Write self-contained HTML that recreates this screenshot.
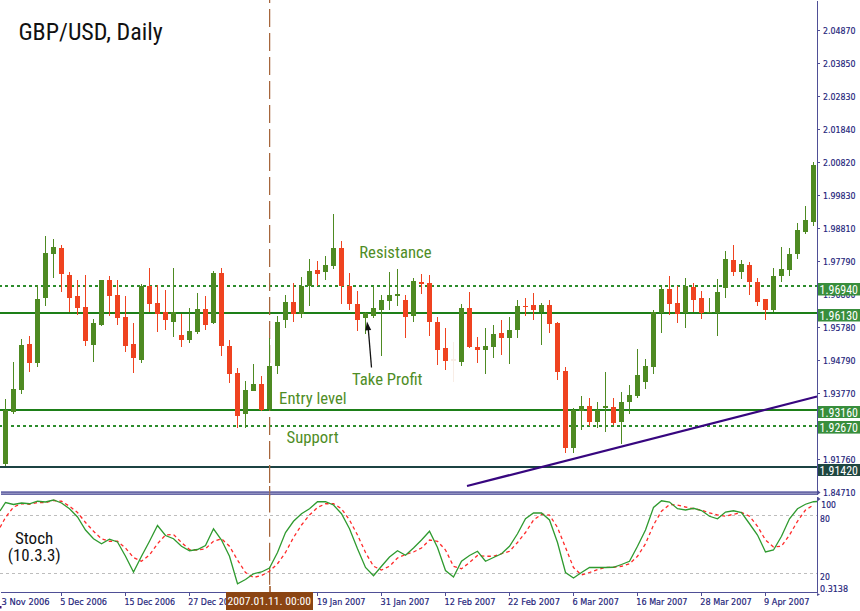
<!DOCTYPE html>
<html><head><meta charset="utf-8"><title>GBP/USD, Daily</title>
<style>
html,body{margin:0;padding:0;background:#fff;}
body{width:860px;height:611px;overflow:hidden;}
svg{display:block;}
</style></head>
<body>
<svg width="860" height="611" viewBox="0 0 860 611">
<rect width="860" height="611" fill="#fff"/>
<g shape-rendering="crispEdges">
<rect x="0" y="312" width="817" height="2" fill="#1d7f18"/>
<rect x="0" y="409" width="817" height="2" fill="#1d7f18"/>
<line x1="-1" y1="286" x2="817" y2="286" stroke="#2c8c2c" stroke-width="2" stroke-dasharray="3 3"/>
<line x1="-1" y1="426" x2="817" y2="426" stroke="#2c8c2c" stroke-width="2" stroke-dasharray="3 3"/>
<rect x="0" y="466" width="817" height="2" fill="#1c4343"/>
</g>
<g fill="#a6663c"><rect x="269" y="0" width="1.25" height="3"/><rect x="269" y="9" width="1.25" height="18"/><rect x="269" y="33" width="1.25" height="18"/><rect x="269" y="57" width="1.25" height="18"/><rect x="269" y="81" width="1.25" height="18"/><rect x="269" y="105" width="1.25" height="18"/><rect x="269" y="129" width="1.25" height="18"/><rect x="269" y="153" width="1.25" height="18"/><rect x="269" y="177" width="1.25" height="18"/><rect x="269" y="201" width="1.25" height="18"/><rect x="269" y="225" width="1.25" height="18"/><rect x="269" y="249" width="1.25" height="18"/><rect x="269" y="273" width="1.25" height="18"/><rect x="269" y="297" width="1.25" height="18"/><rect x="269" y="321" width="1.25" height="18"/><rect x="269" y="345" width="1.25" height="18"/><rect x="269" y="369" width="1.25" height="18"/><rect x="269" y="393" width="1.25" height="18"/><rect x="269" y="417" width="1.25" height="18"/><rect x="269" y="441" width="1.25" height="18"/><rect x="269" y="465" width="1.25" height="18"/><rect x="269" y="486" width="1.25" height="26.5"/><rect x="269" y="518.8" width="1.25" height="18.0"/><rect x="269" y="542.8" width="1.25" height="18.0"/><rect x="269" y="566.8" width="1.25" height="18.0"/><rect x="269" y="590.8" width="1.25" height="1.2000000000000455"/></g>
<g shape-rendering="crispEdges"><rect x="5" y="399" width="1" height="67" fill="#4e8a22"/><rect x="3" y="410" width="5" height="54" fill="#4e8a22"/><rect x="13" y="362" width="1" height="52" fill="#4e8a22"/><rect x="11" y="389" width="5" height="23" fill="#4e8a22"/><rect x="21" y="339" width="1" height="55" fill="#4e8a22"/><rect x="19" y="345" width="5" height="45" fill="#4e8a22"/><rect x="29" y="336" width="1" height="36" fill="#ef4320"/><rect x="27" y="344" width="5" height="19" fill="#ef4320"/><rect x="37" y="285" width="1" height="82" fill="#4e8a22"/><rect x="35" y="299" width="5" height="64" fill="#4e8a22"/><rect x="45" y="236" width="1" height="70" fill="#4e8a22"/><rect x="43" y="253" width="5" height="45" fill="#4e8a22"/><rect x="53" y="239" width="1" height="39" fill="#4e8a22"/><rect x="51" y="247" width="5" height="7" fill="#4e8a22"/><rect x="61" y="245" width="1" height="47" fill="#ef4320"/><rect x="59" y="248" width="5" height="26" fill="#ef4320"/><rect x="69" y="272" width="1" height="40" fill="#ef4320"/><rect x="67" y="275" width="5" height="23" fill="#ef4320"/><rect x="77" y="280" width="1" height="35" fill="#ef4320"/><rect x="75" y="296" width="5" height="12" fill="#ef4320"/><rect x="85" y="275" width="1" height="71" fill="#ef4320"/><rect x="83" y="307" width="5" height="34" fill="#ef4320"/><rect x="93" y="319" width="1" height="43" fill="#4e8a22"/><rect x="91" y="323" width="5" height="22" fill="#4e8a22"/><rect x="101" y="280" width="1" height="46" fill="#4e8a22"/><rect x="99" y="280" width="5" height="45" fill="#4e8a22"/><rect x="109" y="276" width="1" height="40" fill="#ef4320"/><rect x="107" y="280" width="5" height="16" fill="#ef4320"/><rect x="117" y="280" width="1" height="45" fill="#ef4320"/><rect x="115" y="295" width="5" height="23" fill="#ef4320"/><rect x="125" y="296" width="1" height="56" fill="#ef4320"/><rect x="123" y="317" width="5" height="29" fill="#ef4320"/><rect x="133" y="323" width="1" height="50" fill="#ef4320"/><rect x="131" y="344" width="5" height="14" fill="#ef4320"/><rect x="141" y="284" width="1" height="79" fill="#4e8a22"/><rect x="139" y="286" width="5" height="74" fill="#4e8a22"/><rect x="149" y="268" width="1" height="44" fill="#ef4320"/><rect x="147" y="286" width="5" height="18" fill="#ef4320"/><rect x="157" y="285" width="1" height="47" fill="#ef4320"/><rect x="155" y="303" width="5" height="11" fill="#ef4320"/><rect x="165" y="290" width="1" height="40" fill="#ef4320"/><rect x="163" y="312" width="5" height="8" fill="#ef4320"/><rect x="173" y="268" width="1" height="69" fill="#4e8a22"/><rect x="171" y="312" width="5" height="10" fill="#4e8a22"/><rect x="181" y="314" width="1" height="33" fill="#ef4320"/><rect x="179" y="335" width="5" height="5" fill="#ef4320"/><rect x="189" y="308" width="1" height="35" fill="#4e8a22"/><rect x="187" y="331" width="5" height="9" fill="#4e8a22"/><rect x="197" y="293" width="1" height="41" fill="#4e8a22"/><rect x="195" y="309" width="5" height="23" fill="#4e8a22"/><rect x="205" y="296" width="1" height="34" fill="#ef4320"/><rect x="203" y="309" width="5" height="16" fill="#ef4320"/><rect x="213" y="271" width="1" height="53" fill="#4e8a22"/><rect x="211" y="273" width="5" height="50" fill="#4e8a22"/><rect x="221" y="268" width="1" height="88" fill="#ef4320"/><rect x="219" y="273" width="5" height="73" fill="#ef4320"/><rect x="229" y="340" width="1" height="43" fill="#ef4320"/><rect x="227" y="346" width="5" height="28" fill="#ef4320"/><rect x="237" y="368" width="1" height="60" fill="#ef4320"/><rect x="235" y="373" width="5" height="43" fill="#ef4320"/><rect x="245" y="381" width="1" height="47" fill="#4e8a22"/><rect x="243" y="390" width="5" height="24" fill="#4e8a22"/><rect x="253" y="364" width="1" height="27" fill="#4e8a22"/><rect x="251" y="384" width="5" height="7" fill="#4e8a22"/><rect x="261" y="376" width="1" height="35" fill="#ef4320"/><rect x="259" y="384" width="5" height="26" fill="#ef4320"/><rect x="269" y="338" width="1" height="72" fill="#4e8a22"/><rect x="267" y="366" width="5" height="43" fill="#4e8a22"/><rect x="277" y="316" width="1" height="58" fill="#4e8a22"/><rect x="275" y="322" width="5" height="44" fill="#4e8a22"/><rect x="285" y="295" width="1" height="33" fill="#4e8a22"/><rect x="283" y="302" width="5" height="18" fill="#4e8a22"/><rect x="293" y="283" width="1" height="39" fill="#ef4320"/><rect x="291" y="302" width="5" height="12" fill="#ef4320"/><rect x="301" y="277" width="1" height="41" fill="#4e8a22"/><rect x="299" y="286" width="5" height="28" fill="#4e8a22"/><rect x="309" y="259" width="1" height="47" fill="#4e8a22"/><rect x="307" y="271" width="5" height="15" fill="#4e8a22"/><rect x="317" y="261" width="1" height="25" fill="#ef4320"/><rect x="315" y="270" width="5" height="4" fill="#ef4320"/><rect x="325" y="256" width="1" height="24" fill="#4e8a22"/><rect x="323" y="265" width="5" height="7" fill="#4e8a22"/><rect x="333" y="214" width="1" height="55" fill="#4e8a22"/><rect x="331" y="248" width="5" height="18" fill="#4e8a22"/><rect x="341" y="241" width="1" height="63" fill="#ef4320"/><rect x="339" y="248" width="5" height="38" fill="#ef4320"/><rect x="349" y="273" width="1" height="37" fill="#ef4320"/><rect x="347" y="286" width="5" height="18" fill="#ef4320"/><rect x="357" y="291" width="1" height="40" fill="#ef4320"/><rect x="355" y="304" width="5" height="16" fill="#ef4320"/><rect x="365" y="312" width="1" height="22" fill="#4e8a22"/><rect x="363" y="313" width="5" height="5" fill="#4e8a22"/><rect x="373" y="286" width="1" height="32" fill="#4e8a22"/><rect x="371" y="308" width="5" height="8" fill="#4e8a22"/><rect x="381" y="295" width="1" height="61" fill="#4e8a22"/><rect x="379" y="300" width="5" height="10" fill="#4e8a22"/><rect x="389" y="272" width="1" height="38" fill="#4e8a22"/><rect x="387" y="295" width="5" height="6" fill="#4e8a22"/><rect x="397" y="269" width="1" height="37" fill="#4e8a22"/><rect x="395" y="294" width="5" height="2" fill="#4e8a22"/><rect x="405" y="295" width="1" height="43" fill="#ef4320"/><rect x="403" y="300" width="5" height="17" fill="#ef4320"/><rect x="413" y="278" width="1" height="44" fill="#4e8a22"/><rect x="411" y="281" width="5" height="35" fill="#4e8a22"/><rect x="421" y="274" width="1" height="20" fill="#ef4320"/><rect x="419" y="282" width="5" height="2" fill="#ef4320"/><rect x="429" y="275" width="1" height="61" fill="#ef4320"/><rect x="427" y="283" width="5" height="39" fill="#ef4320"/><rect x="437" y="317" width="1" height="48" fill="#ef4320"/><rect x="435" y="322" width="5" height="28" fill="#ef4320"/><rect x="445" y="328" width="1" height="42" fill="#ef4320"/><rect x="443" y="348" width="5" height="13" fill="#ef4320"/><rect x="453" y="342" width="1" height="40" fill="#f8ede6"/><rect x="451" y="359" width="5" height="2" fill="#f8ede6"/><rect x="461" y="304" width="1" height="62" fill="#4e8a22"/><rect x="459" y="308" width="5" height="54" fill="#4e8a22"/><rect x="469" y="292" width="1" height="56" fill="#ef4320"/><rect x="467" y="308" width="5" height="39" fill="#ef4320"/><rect x="477" y="337" width="1" height="26" fill="#ef4320"/><rect x="475" y="347" width="5" height="3" fill="#ef4320"/><rect x="485" y="328" width="1" height="46" fill="#4e8a22"/><rect x="483" y="346" width="5" height="4" fill="#4e8a22"/><rect x="493" y="325" width="1" height="33" fill="#4e8a22"/><rect x="491" y="334" width="5" height="13" fill="#4e8a22"/><rect x="501" y="320" width="1" height="35" fill="#ef4320"/><rect x="499" y="333" width="5" height="5" fill="#ef4320"/><rect x="509" y="317" width="1" height="47" fill="#4e8a22"/><rect x="507" y="330" width="5" height="8" fill="#4e8a22"/><rect x="517" y="300" width="1" height="38" fill="#4e8a22"/><rect x="515" y="306" width="5" height="24" fill="#4e8a22"/><rect x="525" y="298" width="1" height="18" fill="#ef4320"/><rect x="523" y="306" width="5" height="1" fill="#ef4320"/><rect x="533" y="293" width="1" height="27" fill="#ef4320"/><rect x="531" y="305" width="5" height="5" fill="#ef4320"/><rect x="541" y="303" width="1" height="42" fill="#4e8a22"/><rect x="539" y="305" width="5" height="7" fill="#4e8a22"/><rect x="549" y="300" width="1" height="33" fill="#ef4320"/><rect x="547" y="305" width="5" height="19" fill="#ef4320"/><rect x="557" y="322" width="1" height="58" fill="#ef4320"/><rect x="555" y="323" width="5" height="49" fill="#ef4320"/><rect x="565" y="367" width="1" height="86" fill="#ef4320"/><rect x="563" y="371" width="5" height="77" fill="#ef4320"/><rect x="573" y="408" width="1" height="45" fill="#4e8a22"/><rect x="571" y="410" width="5" height="38" fill="#4e8a22"/><rect x="581" y="396" width="1" height="34" fill="#4e8a22"/><rect x="579" y="406" width="5" height="5" fill="#4e8a22"/><rect x="589" y="398" width="1" height="28" fill="#ef4320"/><rect x="587" y="406" width="5" height="16" fill="#ef4320"/><rect x="597" y="402" width="1" height="26" fill="#4e8a22"/><rect x="595" y="410" width="5" height="12" fill="#4e8a22"/><rect x="605" y="372" width="1" height="60" fill="#4e8a22"/><rect x="603" y="406" width="5" height="2" fill="#4e8a22"/><rect x="613" y="398" width="1" height="27" fill="#ef4320"/><rect x="611" y="407" width="5" height="16" fill="#ef4320"/><rect x="621" y="392" width="1" height="52" fill="#4e8a22"/><rect x="619" y="402" width="5" height="20" fill="#4e8a22"/><rect x="629" y="385" width="1" height="29" fill="#4e8a22"/><rect x="627" y="395" width="5" height="7" fill="#4e8a22"/><rect x="637" y="349" width="1" height="49" fill="#4e8a22"/><rect x="635" y="375" width="5" height="21" fill="#4e8a22"/><rect x="645" y="359" width="1" height="30" fill="#4e8a22"/><rect x="643" y="366" width="5" height="16" fill="#4e8a22"/><rect x="653" y="310" width="1" height="64" fill="#4e8a22"/><rect x="651" y="312" width="5" height="55" fill="#4e8a22"/><rect x="661" y="286" width="1" height="47" fill="#4e8a22"/><rect x="659" y="289" width="5" height="24" fill="#4e8a22"/><rect x="669" y="276" width="1" height="39" fill="#ef4320"/><rect x="667" y="289" width="5" height="15" fill="#ef4320"/><rect x="677" y="286" width="1" height="37" fill="#ef4320"/><rect x="675" y="303" width="5" height="11" fill="#ef4320"/><rect x="685" y="278" width="1" height="50" fill="#4e8a22"/><rect x="683" y="286" width="5" height="27" fill="#4e8a22"/><rect x="693" y="283" width="1" height="29" fill="#ef4320"/><rect x="691" y="287" width="5" height="13" fill="#ef4320"/><rect x="701" y="291" width="1" height="28" fill="#ef4320"/><rect x="699" y="298" width="5" height="15" fill="#ef4320"/><rect x="709" y="298" width="1" height="15" fill="#4e8a22"/><rect x="707" y="312" width="5" height="1" fill="#4e8a22"/><rect x="717" y="279" width="1" height="57" fill="#4e8a22"/><rect x="715" y="292" width="5" height="21" fill="#4e8a22"/><rect x="725" y="251" width="1" height="47" fill="#4e8a22"/><rect x="723" y="259" width="5" height="29" fill="#4e8a22"/><rect x="733" y="245" width="1" height="31" fill="#ef4320"/><rect x="731" y="260" width="5" height="12" fill="#ef4320"/><rect x="741" y="260" width="1" height="19" fill="#4e8a22"/><rect x="739" y="264" width="5" height="8" fill="#4e8a22"/><rect x="749" y="262" width="1" height="33" fill="#ef4320"/><rect x="747" y="265" width="5" height="17" fill="#ef4320"/><rect x="757" y="278" width="1" height="28" fill="#ef4320"/><rect x="755" y="282" width="5" height="20" fill="#ef4320"/><rect x="765" y="299" width="1" height="21" fill="#ef4320"/><rect x="763" y="299" width="5" height="11" fill="#ef4320"/><rect x="773" y="268" width="1" height="44" fill="#4e8a22"/><rect x="771" y="276" width="5" height="34" fill="#4e8a22"/><rect x="781" y="247" width="1" height="35" fill="#4e8a22"/><rect x="779" y="269" width="5" height="7" fill="#4e8a22"/><rect x="789" y="248" width="1" height="28" fill="#4e8a22"/><rect x="787" y="254" width="5" height="16" fill="#4e8a22"/><rect x="797" y="223" width="1" height="36" fill="#4e8a22"/><rect x="795" y="230" width="5" height="24" fill="#4e8a22"/><rect x="805" y="206" width="1" height="28" fill="#4e8a22"/><rect x="803" y="220" width="5" height="12" fill="#4e8a22"/><rect x="813" y="162" width="1" height="64" fill="#4e8a22"/><rect x="811" y="165" width="5" height="57" fill="#4e8a22"/></g>
<line x1="467" y1="486" x2="817" y2="396.5" stroke="#37067f" stroke-width="2.2"/>
<line x1="371.5" y1="367.5" x2="368.3" y2="329" stroke="#111" stroke-width="1.3"/>
<polygon points="367,321.5 365.3,330.5 371.2,330" fill="#111"/>
<g shape-rendering="crispEdges">
<rect x="1" y="491" width="816" height="4" fill="#8f8fc0"/>
<rect x="1" y="492" width="816" height="1" fill="#6a6aa6"/>
<rect x="1" y="494" width="816" height="1" fill="#6a6aa6"/>
</g>
<rect x="269" y="490" width="1.25" height="6" fill="#a6663c" opacity="0.7"/>
<g shape-rendering="crispEdges">
<line x1="0" y1="515.5" x2="817" y2="515.5" stroke="#bdbdbd" stroke-width="1" stroke-dasharray="3 3"/>
<line x1="0" y1="573.5" x2="817" y2="573.5" stroke="#bdbdbd" stroke-width="1" stroke-dasharray="3 3"/>
</g>
<polyline points="0,527.5 5.5,517.5 13.5,507 21.5,503.75 29.5,504.25 37.5,502.5 45.5,502.5 53.5,500.5 61.5,501.25 69.5,506.25 77.5,512.5 85.5,522.5 93.5,531.25 101.5,538.75 109.5,541.25 117.5,541.25 125.5,548 133.5,557.5 141.5,561.25 149.5,555 157.5,543.75 165.5,535 173.5,534.5 181.5,542.5 189.5,549.5 197.5,550 205.5,548.75 213.5,541.25 221.5,538.75 229.5,546.25 237.5,560 245.5,572.5 253.5,577.5 261.5,575.5 269.5,571.25 277.5,563.75 285.5,552.5 293.5,537.5 301.5,525 309.5,515 317.5,507.5 325.5,503.75 333.5,503.75 341.5,508.75 349.5,520 357.5,535 365.5,552.5 373.5,566.25 381.5,570 389.5,566.25 397.5,558 405.5,554.5 413.5,552 421.5,548 429.5,540 437.5,541.25 445.5,550 453.5,566.25 461.5,568.75 469.5,562.5 477.5,555.5 485.5,556.25 493.5,556.25 501.5,553.75 509.5,551.25 517.5,542.5 525.5,532.5 533.5,520 541.5,514.25 549.5,515 557.5,527.5 565.5,547.5 573.5,567.5 581.5,575 589.5,572.5 597.5,569.5 605.5,567.5 613.5,567.25 621.5,566.25 629.5,563.75 637.5,556.25 645.5,543.75 653.5,525 661.5,511.25 669.5,504.5 677.5,505 685.5,507 693.5,508.75 701.5,510 709.5,513 717.5,515 725.5,516.25 733.5,514.25 741.5,512.5 749.5,516.25 757.5,526.25 765.5,540 773.5,547 781.5,546.25 789.5,535 797.5,521.25 805.5,510 813.5,505" fill="none" stroke="#ff2a2a" stroke-width="1.3" stroke-dasharray="3.5 3"/>
<polyline points="0,511 5.5,502.5 13.5,504.5 21.5,503 29.5,503.75 37.5,501.25 45.5,502 53.5,500 61.5,503 69.5,508.75 77.5,517 85.5,530 93.5,538.75 101.5,543.75 109.5,539.25 117.5,542 125.5,556.25 133.5,572 141.5,556.25 149.5,541.25 157.5,525.5 165.5,535.5 173.5,538.75 181.5,546.25 189.5,550.75 197.5,549.5 205.5,545.5 213.5,528.75 221.5,540 229.5,556.25 237.5,583.75 245.5,579.5 253.5,573.75 261.5,572 269.5,568 277.5,552.5 285.5,532.5 293.5,521.25 301.5,513.75 309.5,508.75 317.5,501.75 325.5,501.75 333.5,505 341.5,513.75 349.5,528.75 357.5,548.75 365.5,567.5 373.5,575.75 381.5,566.25 389.5,557 397.5,550.75 405.5,555.25 413.5,548 421.5,540 429.5,531.25 437.5,547.5 445.5,570.5 453.5,577 461.5,561.25 469.5,555.5 477.5,551.25 485.5,561.25 493.5,557.5 501.5,553.75 509.5,546.25 517.5,533.75 525.5,518.75 533.5,513 541.5,513 549.5,520 557.5,542.5 565.5,572.5 573.5,578 581.5,572.5 589.5,567.5 597.5,567.5 605.5,567.5 613.5,567.25 621.5,564.5 629.5,561.25 637.5,546.25 645.5,530 653.5,507.5 661.5,500.75 669.5,502 677.5,508.75 685.5,510 693.5,508.25 701.5,510.5 709.5,516.25 717.5,518.75 725.5,512 733.5,510.75 741.5,512.5 749.5,523.75 757.5,535 765.5,552 773.5,550 781.5,536.25 789.5,518.75 797.5,508.75 805.5,504.25 813.5,501.75 817,501.5" fill="none" stroke="#2f9a2f" stroke-width="1.3"/>
<g shape-rendering="crispEdges">
<rect x="817" y="1" width="1" height="494" fill="#4f4f96"/>
<rect x="817" y="497" width="1" height="96" fill="#4f4f96"/>
<rect x="1" y="592" width="817" height="1" fill="#4f4f96"/>
<rect x="818" y="30" width="2" height="1" fill="#4f4f96"/>
<rect x="818" y="63" width="2" height="1" fill="#4f4f96"/>
<rect x="818" y="96" width="2" height="1" fill="#4f4f96"/>
<rect x="818" y="129" width="2" height="1" fill="#4f4f96"/>
<rect x="818" y="162" width="2" height="1" fill="#4f4f96"/>
<rect x="818" y="195" width="2" height="1" fill="#4f4f96"/>
<rect x="818" y="228" width="2" height="1" fill="#4f4f96"/>
<rect x="818" y="261" width="2" height="1" fill="#4f4f96"/>
<rect x="818" y="294" width="2" height="1" fill="#4f4f96"/>
<rect x="818" y="327" width="2" height="1" fill="#4f4f96"/>
<rect x="818" y="360" width="2" height="1" fill="#4f4f96"/>
<rect x="818" y="393" width="2" height="1" fill="#4f4f96"/>
<rect x="818" y="426" width="2" height="1" fill="#4f4f96"/>
<rect x="818" y="459" width="2" height="1" fill="#4f4f96"/>
<rect x="61" y="593" width="1" height="3" fill="#4f4f96"/>
<rect x="125" y="593" width="1" height="3" fill="#4f4f96"/>
<rect x="189" y="593" width="1" height="3" fill="#4f4f96"/>
<rect x="253" y="593" width="1" height="3" fill="#4f4f96"/>
<rect x="317" y="593" width="1" height="3" fill="#4f4f96"/>
<rect x="381" y="593" width="1" height="3" fill="#4f4f96"/>
<rect x="445" y="593" width="1" height="3" fill="#4f4f96"/>
<rect x="509" y="593" width="1" height="3" fill="#4f4f96"/>
<rect x="573" y="593" width="1" height="3" fill="#4f4f96"/>
<rect x="637" y="593" width="1" height="3" fill="#4f4f96"/>
<rect x="701" y="593" width="1" height="3" fill="#4f4f96"/>
<rect x="765" y="593" width="1" height="3" fill="#4f4f96"/>
</g>
<polygon points="818,490.5 820.5,492.5 818,494.5" fill="#4f4f96"/>
<polygon points="818,497 820.5,499 818,501" fill="#4f4f96"/>
<polygon points="817,593 820,594.5 817,596" fill="#4f4f96"/>
<g font-family="'DejaVu Sans', 'Liberation Sans', sans-serif" font-size="9.5" fill="#23237a" stroke="#23237a" stroke-width="0.2">
<text x="823" y="33.8" textLength="32.5" lengthAdjust="spacingAndGlyphs">2.04870</text>
<text x="823" y="66.8" textLength="32.5" lengthAdjust="spacingAndGlyphs">2.03850</text>
<text x="823" y="99.8" textLength="32.5" lengthAdjust="spacingAndGlyphs">2.02830</text>
<text x="823" y="132.8" textLength="32.5" lengthAdjust="spacingAndGlyphs">2.01840</text>
<text x="823" y="165.8" textLength="32.5" lengthAdjust="spacingAndGlyphs">2.00820</text>
<text x="823" y="198.8" textLength="32.5" lengthAdjust="spacingAndGlyphs">1.99830</text>
<text x="823" y="231.8" textLength="32.5" lengthAdjust="spacingAndGlyphs">1.98810</text>
<text x="823" y="264.8" textLength="32.5" lengthAdjust="spacingAndGlyphs">1.97790</text>
<text x="823" y="297.8" textLength="32.5" lengthAdjust="spacingAndGlyphs">1.96800</text>
<text x="823" y="330.8" textLength="32.5" lengthAdjust="spacingAndGlyphs">1.95780</text>
<text x="823" y="363.8" textLength="32.5" lengthAdjust="spacingAndGlyphs">1.94790</text>
<text x="823" y="396.8" textLength="32.5" lengthAdjust="spacingAndGlyphs">1.93770</text>
<text x="823" y="429.8" textLength="32.5" lengthAdjust="spacingAndGlyphs">1.92750</text>
<text x="823" y="462.8" textLength="32.5" lengthAdjust="spacingAndGlyphs">1.91760</text>
<text x="823" y="495.8" textLength="32.5" lengthAdjust="spacingAndGlyphs">1.84710</text>
<text x="821.3" y="508" textLength="14.6" lengthAdjust="spacingAndGlyphs">100</text>
<text x="820" y="521.6" textLength="9.8" lengthAdjust="spacingAndGlyphs">80</text>
<text x="820" y="580" textLength="9.8" lengthAdjust="spacingAndGlyphs">20</text>
<text x="820" y="591.5" textLength="28" lengthAdjust="spacingAndGlyphs">0.3138</text>
<text x="1.6" y="605" textLength="48" lengthAdjust="spacingAndGlyphs">3 Nov 2006</text>
<text x="60.2" y="605" textLength="46.8" lengthAdjust="spacingAndGlyphs">5 Dec 2006</text>
<text x="124.5" y="605" textLength="50.5" lengthAdjust="spacingAndGlyphs">15 Dec 2006</text>
<text x="188.3" y="605" textLength="50.5" lengthAdjust="spacingAndGlyphs">27 Dec 2006</text>
<text x="317" y="605" textLength="48.5" lengthAdjust="spacingAndGlyphs">19 Jan 2007</text>
<text x="380.5" y="605" textLength="49" lengthAdjust="spacingAndGlyphs">31 Jan 2007</text>
<text x="444.5" y="605" textLength="51" lengthAdjust="spacingAndGlyphs">12 Feb 2007</text>
<text x="508" y="605" textLength="52" lengthAdjust="spacingAndGlyphs">22 Feb 2007</text>
<text x="572.5" y="605" textLength="46.3" lengthAdjust="spacingAndGlyphs">6 Mar 2007</text>
<text x="636.3" y="605" textLength="51.2" lengthAdjust="spacingAndGlyphs">16 Mar 2007</text>
<text x="700.3" y="605" textLength="51.5" lengthAdjust="spacingAndGlyphs">28 Mar 2007</text>
<text x="764" y="605" textLength="45.4" lengthAdjust="spacingAndGlyphs">9 Apr 2007</text>
</g>
<g font-family="'Roboto Condensed', 'Liberation Sans', sans-serif" font-size="12.6" fill="#fff">
<rect x="818" y="283" width="42" height="12.5" fill="#388e3c"/>
<text x="819.6" y="294.0" textLength="38.4" lengthAdjust="spacingAndGlyphs">1.96940</text>
<rect x="818" y="309" width="42" height="12.5" fill="#388e3c"/>
<text x="819.6" y="320.0" textLength="38.4" lengthAdjust="spacingAndGlyphs">1.96130</text>
<rect x="818" y="406" width="42" height="12" fill="#388e3c"/>
<text x="819.6" y="416.5" textLength="38.4" lengthAdjust="spacingAndGlyphs">1.93160</text>
<rect x="818" y="421" width="42" height="12.600000000000023" fill="#388e3c"/>
<text x="819.6" y="432.1" textLength="38.4" lengthAdjust="spacingAndGlyphs">1.92670</text>
<rect x="818" y="464" width="42" height="12" fill="#1f4741"/>
<text x="819.6" y="474.5" textLength="38.4" lengthAdjust="spacingAndGlyphs">1.91420</text>
</g>
<rect x="226" y="592" width="87" height="18" fill="#8b4513"/>
<text x="227.6" y="605.2" font-family="'Roboto Condensed', 'Liberation Sans', sans-serif" font-size="11.6" fill="#fff" textLength="83.3" lengthAdjust="spacingAndGlyphs">2007.01.11. 00:00</text>
<rect x="0" y="606" width="1.5" height="2.5" fill="#3a1a80"/>
<rect x="269" y="586" width="2" height="6" fill="#b57a52"/>
<text transform="translate(359.25,257.7) scale(1.0,1)" font-family="'Roboto Condensed', 'Liberation Sans', sans-serif" font-size="16.7" fill="#4f8d26" textLength="72.28" lengthAdjust="spacingAndGlyphs">Resistance</text>
<text transform="translate(352.1,384.5) scale(1.0,1)" font-family="'Roboto Condensed', 'Liberation Sans', sans-serif" font-size="16.7" fill="#4f8d26" textLength="70.44" lengthAdjust="spacingAndGlyphs">Take Profit</text>
<text transform="translate(279.1,404.0) scale(1.0,1)" font-family="'Roboto Condensed', 'Liberation Sans', sans-serif" font-size="16.7" fill="#4f8d26" textLength="67.56" lengthAdjust="spacingAndGlyphs">Entry level</text>
<text transform="translate(286.6,442.5) scale(1.0,1)" font-family="'Roboto Condensed', 'Liberation Sans', sans-serif" font-size="16.7" fill="#4f8d26" textLength="52.0" lengthAdjust="spacingAndGlyphs">Support</text>
<text transform="translate(18.4,39.6) scale(1.0,1)" font-family="'Roboto Condensed', 'Liberation Sans', sans-serif" font-size="24" fill="#111" textLength="144.36" lengthAdjust="spacingAndGlyphs">GBP/USD, Daily</text>
<text transform="translate(14.9,543.6) scale(1.045,1)" font-family="'Roboto Condensed', 'Liberation Sans', sans-serif" font-size="16.3" fill="#111" textLength="36.68" lengthAdjust="spacingAndGlyphs">Stoch</text>
<text transform="translate(7.75,560.5) scale(1.035,1)" font-family="'Roboto Condensed', 'Liberation Sans', sans-serif" font-size="16.3" fill="#111" textLength="51.07" lengthAdjust="spacingAndGlyphs">(10.3.3)</text>
</svg>
</body></html>
